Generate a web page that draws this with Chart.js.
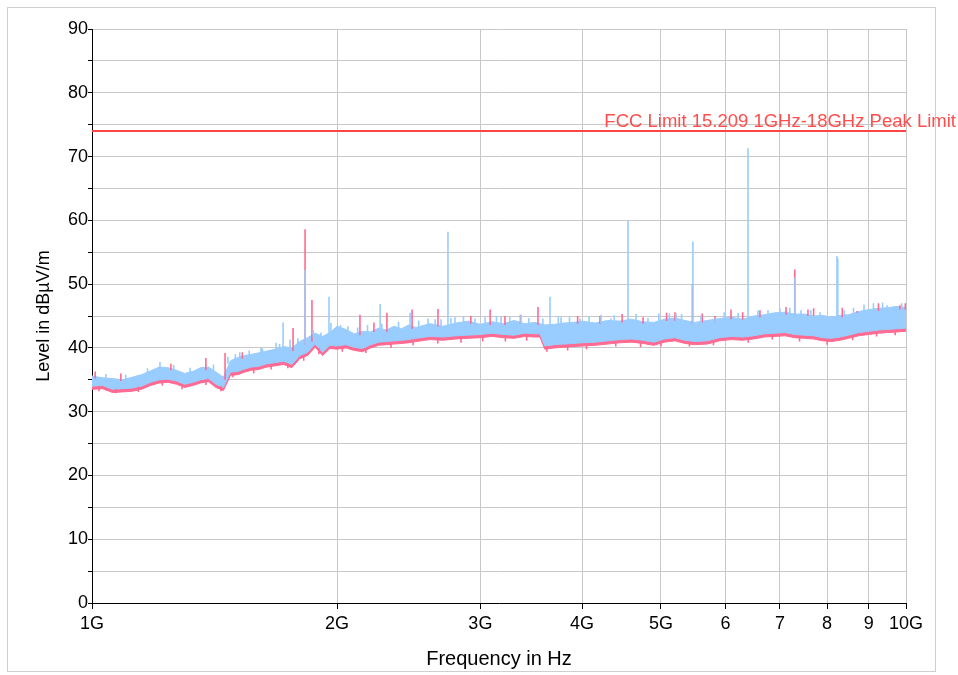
<!DOCTYPE html>
<html><head><meta charset="utf-8">
<script src="https://cdn.jsdelivr.net/npm/chart.js@4.4.1/dist/chart.umd.min.js"></script>
<style>
html,body{margin:0;padding:0;background:#fff;}
#wrap{position:relative;width:958px;height:675px;overflow:hidden;}
#frame{position:absolute;left:7px;top:7px;width:927px;height:663px;border:1px solid #cfcfcf;box-sizing:content-box;}
canvas{position:absolute;left:0;top:0;}
</style></head><body>
<div id="wrap"><div id="frame"></div><canvas id="c" width="958" height="675"></canvas></div>
<script>
const GHz = 1e9;
// sweep frequencies (GHz) at which the trace envelopes were read
const freqGHz = [1.00,1.03,1.06,1.09,1.12,1.15,1.18,1.21,1.24,1.27,1.30,1.33,1.36,1.39,1.42,1.45,1.48,1.51,1.54,1.57,1.60,
  1.64,1.68,1.72,1.76,1.80,1.84,1.88,1.92,1.96,2.00,
  2.05,2.10,2.15,2.20,2.25,2.30,2.35,2.40,2.45,2.50,
  2.60,2.70,2.80,2.90,3.00,3.10,3.20,3.30,3.40,3.50,
  3.55,3.60,3.70,3.80,3.90,4.00,
  4.15,4.30,4.45,4.60,4.75,4.90,5.05,5.20,5.35,5.50,
  5.70,5.90,6.10,6.30,6.50,6.70,6.90,7.10,7.30,7.50,7.70,7.90,8.10,8.30,8.50,
  8.75,9.00,9.25,9.50,9.75,10.0];
// light blue trace: upper / lower edge (dBµV/m)
const blueHi = [35.6,35.3,35.2,35.0,35.4,35.8,36.4,37.0,36.9,36.5,36.0,36.3,36.9,37.0,36.2,35.4,38.0,38.5,38.8,39.0,39.2,
  39.5,39.8,40.2,40.0,41.0,41.6,42.3,41.8,42.4,43.4,
  42.9,42.2,42.6,42.5,43.1,42.8,43.4,43.0,43.6,43.2,
  43.8,43.4,43.9,44.2,43.7,44.1,43.8,44.3,43.8,44.0,
  43.8,43.6,43.7,43.9,44.0,44.2,
  43.9,44.3,44.2,44.5,44.1,44.0,44.5,44.7,44.3,44.0,
  44.3,44.6,44.8,44.5,45.0,45.2,45.5,45.6,45.3,45.3,45.0,45.1,44.8,45.1,45.2,
  45.7,46.0,46.2,46.3,46.5,46.3];
const blueLo = [34.0,34.1,33.5,33.6,33.7,34.0,34.6,35.0,35.1,34.8,34.3,34.6,35.0,35.2,34.3,33.8,36.2,36.3,36.7,37.0,37.1,
  37.5,37.7,37.9,37.4,38.8,39.3,40.6,39.3,40.4,40.3,
  40.5,40.1,39.9,40.5,40.9,41.0,41.1,41.2,41.3,41.5,
  41.8,41.7,41.9,42.0,42.1,42.3,42.1,42.0,42.3,42.2,
  42.2,40.3,40.5,40.6,40.7,40.8,
  40.9,41.1,41.3,41.4,41.2,40.9,41.4,41.6,41.2,41.0,
  41.1,41.6,41.8,41.7,41.9,42.2,42.3,42.4,42.1,42.0,41.9,41.6,41.5,41.7,42.0,
  42.4,42.6,42.8,42.9,43.0,43.1];
// pink trace: upper / lower edge (dBµV/m)
const redHi = [35.3,35.0,34.9,34.8,35.1,35.5,36.1,36.7,36.6,36.2,35.7,36.0,36.6,36.7,35.9,35.1,37.7,38.2,38.5,38.7,38.9,
  39.2,39.5,39.9,39.7,40.7,41.3,42.0,41.5,42.1,43.1,
  42.6,41.9,42.3,42.2,42.8,42.5,43.1,42.7,43.3,42.9,
  43.5,43.1,43.6,43.9,43.4,43.8,43.5,44.0,43.5,43.7,
  43.5,43.3,43.4,43.6,43.7,43.9,
  43.6,44.0,43.9,44.2,43.8,43.7,44.2,44.4,44.0,43.7,
  44.0,44.3,44.5,44.2,44.7,44.9,45.2,45.3,45.0,45.0,44.7,44.8,44.5,44.8,44.9,
  45.4,45.7,45.9,46.0,46.2,46.0];
const redLo = [33.5,33.6,33.0,33.1,33.2,33.5,34.1,34.5,34.6,34.3,33.8,34.1,34.5,34.7,33.8,33.3,35.7,35.8,36.2,36.5,36.6,
  37.0,37.2,37.4,36.9,38.3,38.8,40.1,38.8,39.9,39.8,
  40.0,39.6,39.4,40.0,40.4,40.5,40.6,40.7,40.8,41.0,
  41.3,41.2,41.4,41.5,41.6,41.8,41.6,41.5,41.8,41.7,
  41.7,39.8,40.0,40.1,40.2,40.3,
  40.4,40.6,40.8,40.9,40.7,40.4,40.9,41.1,40.7,40.5,
  40.6,41.1,41.3,41.2,41.4,41.7,41.8,41.9,41.6,41.5,41.4,41.1,41.0,41.2,41.5,
  41.9,42.1,42.3,42.4,42.5,42.6];
// narrow emissions and noise peaks on the light blue trace (GHz, from level, to level)
const blueSpikeFreq = [1.212,1.469,1.519,1.613,1.683,1.717,1.751,1.827,1.911,1.955,1.966,2.063,2.259,2.459,2.587,2.684,2.737,2.792,2.954,3.181,3.365,3.653,3.769,3.977,4.341,4.555,4.820,5.218,5.473,5.826,6.396,6.769,7.304,7.430,8.226,8.245,9.477,9.639,
  1.04,1.10,1.17,1.26,1.32,1.41,1.50,1.56,1.62,1.70,1.79,1.87,2.02,2.12,2.18,2.27,2.38,2.52,2.64,2.76,2.86,3.04,3.14,3.26,3.44,3.58,3.74,3.86,4.08,4.22,4.38,4.66,4.97,5.12,5.30,5.60,5.98,6.22,6.58,7.00,7.20,7.64,7.84,8.40,8.62,8.88,9.12,9.36,9.88];
const blueSpikeBase = [36.5,37.5,37.8,38.5,39.2,39.5,39.5,40.5,40.8,41.5,41.8,41.8,42.3,42.8,43.0,43.0,43.0,43.2,43.3,43.3,43.4,43.0,43.2,43.4,43.6,43.7,43.5,43.9,43.6,43.7,44.0,44.6,44.6,44.6,44.3,44.3,45.5,45.5,
  35.0,34.8,35.9,36.4,35.9,36.3,38.0,38.6,39.0,39.5,40.3,41.7,42.4,42.0,42.2,42.6,42.9,43.0,43.2,43.5,43.7,43.6,43.6,43.7,43.6,43.4,43.5,43.7,43.8,43.9,44.0,44.0,44.0,44.3,44.1,43.9,44.3,44.4,44.7,45.0,45.1,44.8,44.7,44.7,45.1,45.6,45.8,46.0,46.0];
const blueSpikePeak = [37.8,38.6,39.3,40.0,40.8,44.0,41.3,52.2,42.4,48.0,43.9,43.4,46.9,45.5,44.6,44.5,58.2,44.8,44.6,44.9,45.2,48.0,44.8,44.6,44.6,59.9,44.7,45.4,56.7,44.6,71.3,45.9,51.0,45.9,54.4,54.0,46.7,46.5,
  35.9,35.8,36.8,37.3,36.9,37.4,39.0,39.6,39.9,40.6,41.5,42.8,43.6,43.2,43.6,43.8,44.1,44.3,44.5,44.7,44.9,44.8,45.0,44.9,44.7,44.6,44.9,44.8,45.0,45.2,45.1,45.3,45.4,45.4,45.3,45.1,45.6,45.5,45.9,46.2,46.3,45.9,45.6,45.9,46.3,46.8,47.0,47.1,47.0];
// narrow emissions and noise peaks / dips on the pink trace (GHz, from level, to level)
const redSpikeFreq = [1.009,1.085,1.380,1.457,1.766,1.827,1.863,2.134,2.303,2.473,2.661,3.084,3.216,3.531,4.208,4.753,5.203,5.465,5.826,6.096,6.616,7.122,7.300,7.578,8.706,9.831,
  1.25,1.53,2.22,2.92,3.36,3.95,4.48,5.08,5.62,6.30,7.70,8.35,9.25,9.98,
  1.02,1.07,1.14,1.22,1.29,1.38,1.44,1.49,1.58,1.66,1.74,1.82,1.90,2.03,2.17,2.33,2.48,2.66,2.84,3.02,3.22,3.42,3.62,3.84,4.05,4.40,4.72,5.00,5.42,5.80,6.40,6.85,7.40,8.00,8.60,9.20,9.70];
const redSpikeBase = [35.2,34.8,36.5,35.0,39.5,40.5,41.0,42.0,42.5,43.0,43.4,43.6,43.6,43.6,43.8,43.8,44.2,43.8,44.0,44.5,44.8,45.2,45.0,45.0,45.5,46.0,
  36.5,38.3,42.5,43.8,43.8,43.8,44.0,44.2,44.0,44.4,45.0,44.8,45.8,46.0,
  34.0,33.6,33.9,34.9,34.3,35.0,34.0,36.0,36.8,37.4,37.6,38.8,40.0,40.2,40.0,40.8,41.2,41.5,41.6,41.8,41.8,42.0,40.2,40.4,40.6,41.0,41.0,41.0,41.0,41.2,41.6,42.1,41.8,41.3,42.0,42.6,42.8];
const redSpikePeak = [36.3,36.0,38.4,39.2,43.1,58.6,47.5,45.2,45.5,46.0,46.1,46.0,45.0,46.4,45.0,44.8,45.6,50.0,45.0,46.0,45.9,46.4,52.3,46.0,45.8,46.7,
  37.5,39.3,44.0,45.0,45.2,45.0,45.3,45.5,45.4,45.6,46.2,46.3,47.0,47.0,
  33.2,32.9,33.1,34.1,33.5,34.2,33.2,35.4,36.0,36.6,36.8,38.0,39.0,39.4,39.2,40.0,40.4,40.7,40.8,41.0,41.0,41.1,39.4,39.6,39.8,40.2,40.1,40.2,40.2,40.4,40.8,41.3,41.0,40.5,41.2,41.8,42.0];
// limit line
const limitFreq = [1, 10];
const limitLevel = [74, 74];
const limitLabel = 'FCC Limit 15.209 1GHz-18GHz Peak Limit';
const limitLabelFreq = 4.26;
// axes
const xTickGHz = [1,2,3,4,5,6,7,8,9,10];
const xTickLabels = ['1G','2G','3G','4G','5G','6','7','8','9','10G'];
const yMin = 0, yMax = 90, yStep = 5, yLabelStep = 10;

const BLUE = '#99ccff', RED = '#ff6a92', LIMIT = '#ff4444';
const FONT = '"Liberation Sans", Arial, Helvetica, sans-serif';

const pts = (f, v) => f.map((g, i) => ({x: g * GHz, y: v[i]}));
function spikePts(f, base, peak) {
  const out = [];
  f.forEach((g, i) => { out.push({x: g * GHz, y: base[i]}, {x: g * GHz, y: peak[i]}, {x: g * GHz, y: null}); });
  return out;
}
const band = (data, color, fill, order) => ({data, borderColor: color, backgroundColor: color, borderWidth: 1,
  pointRadius: 0, tension: 0, fill, order});

const labelPlugin = {
  id: 'limitLabel',
  afterDatasetsDraw(chart) {
    const {ctx, scales: {x, y}} = chart;
    ctx.save();
    ctx.font = '18.5px ' + FONT;
    ctx.fillStyle = '#ff4d4d';
    ctx.textAlign = 'left';
    ctx.textBaseline = 'alphabetic';
    ctx.fillText(limitLabel, x.getPixelForValue(limitLabelFreq * GHz), y.getPixelForValue(limitLevel[0]) - 4);
    ctx.restore();
  }
};

new Chart(document.getElementById('c'), {
  type: 'line',
  data: {
    datasets: [
      band(pts(freqGHz, redLo), RED, false, 6),
      band(pts(freqGHz, redHi), RED, '-1', 5),
      band(pts(freqGHz, blueLo), BLUE, false, 4),
      band(pts(freqGHz, blueHi), BLUE, '-1', 3),
      {data: spikePts(redSpikeFreq, redSpikeBase, redSpikePeak), borderColor: RED, borderWidth: 1.6, pointRadius: 0, fill: false, spanGaps: false, order: 2},
      {data: spikePts(blueSpikeFreq, blueSpikeBase, blueSpikePeak), borderColor: BLUE, borderWidth: 1.6, pointRadius: 0, fill: false, spanGaps: false, order: 1},
      {data: pts(limitFreq, limitLevel), borderColor: LIMIT, borderWidth: 2, pointRadius: 0, fill: false, order: 0}
    ]
  },
  options: {
    responsive: false,
    animation: false,
    devicePixelRatio: 1,
    events: [],
    layout: {padding: {left: 0, top: 29, right: 52, bottom: 0}},
    plugins: {legend: {display: false}, tooltip: {enabled: false}},
    scales: {
      x: {
        type: 'logarithmic',
        min: 1 * GHz, max: 10 * GHz,
        afterBuildTicks: s => { s.ticks = xTickGHz.map(v => ({value: v * GHz})); },
        afterFit: s => { s.height = 72; },
        ticks: {autoSkip: false, maxRotation: 0, color: '#000', padding: 4, font: {family: FONT, size: 18},
          callback: (v, i) => xTickLabels[i]},
        grid: {color: '#c8c8c8', tickColor: '#000', tickLength: 6, lineWidth: 1},
        border: {color: '#000', width: 1},
        title: {display: true, text: 'Frequency in Hz', color: '#000', font: {family: FONT, size: 20}, padding: {top: 0, bottom: 4}}
      },
      y: {
        min: yMin, max: yMax,
        afterFit: s => { s.width = 92; },
        ticks: {stepSize: yStep, autoSkip: false, color: '#000', padding: 0, font: {family: FONT, size: 18},
          callback: v => (v % yLabelStep === 0 ? String(v) : '')},
        grid: {color: '#c8c8c8', tickColor: '#000', tickLength: 4, lineWidth: 1},
        border: {color: '#000', width: 1},
        title: {display: true, text: 'Level in dBµV/m', color: '#000', font: {family: FONT, size: 18}, padding: {top: 33, bottom: 0}}
      }
    }
  },
  plugins: [labelPlugin]
});
</script>
</body></html>
